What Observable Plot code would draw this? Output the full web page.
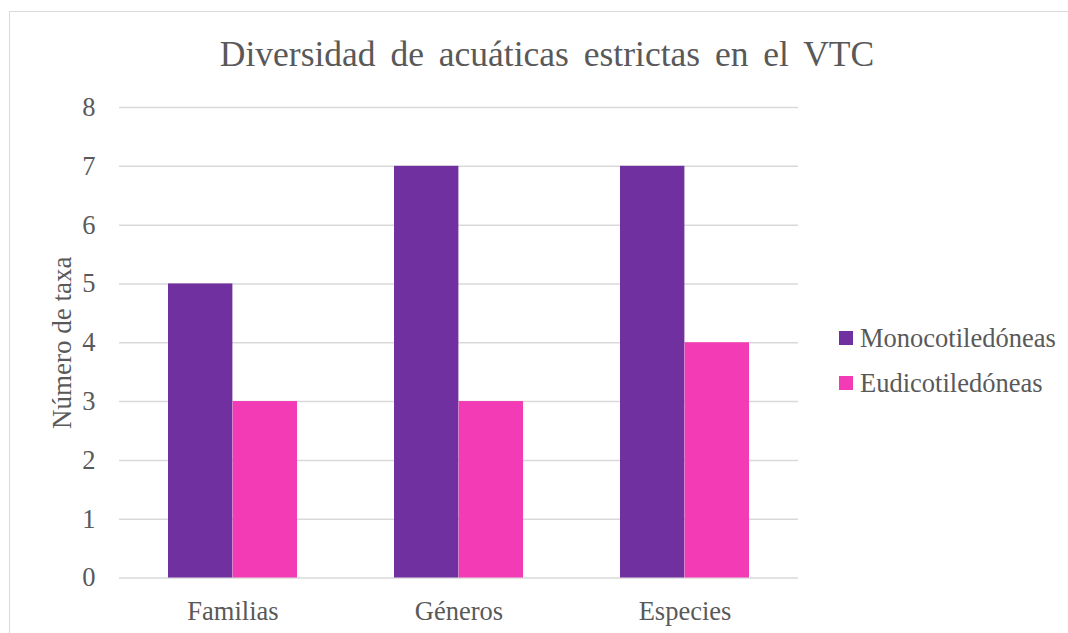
<!DOCTYPE html>
<html>
<head>
<meta charset="utf-8">
<script src="https://cdn.jsdelivr.net/npm/d3@7"></script>
<script src="https://cdn.jsdelivr.net/npm/@observablehq/plot@0.6"></script>
<style>
  html, body { margin: 0; padding: 0; background: #fff; }
  #wrap { position: relative; width: 1068px; height: 633px; overflow: hidden; font-family: 'Liberation Serif'; color: #595959; }
  #frame { position: absolute; left: 9px; top: 11px; width: 1100px; height: 700px; border: 1.5px solid #d9d9d9; box-sizing: border-box; }
  #title { position: absolute; left: 0; top: 33px; width: 1094px; text-align: center; font-family: 'Liberation Serif'; font-size: 35.5px; word-spacing: 6px; white-space: nowrap; }
  #chart { position: absolute; left: 0; top: 0; }
  #legend { position: absolute; left: 839px; top: 323px; font-family: 'Liberation Serif'; font-size: 26.5px; }
  .item { display: flex; align-items: center; height: 30px; margin-bottom: 15px; white-space: nowrap; }
  .sw { width: 14px; height: 14px; margin-right: 7px; }
  #chart svg text { font-family: 'Liberation Serif'; }
</style>
</head>
<body>
<div id="wrap">
  <div id="frame"></div>
  <div id="chart"></div>
  <div id="title">Diversidad de acuáticas estrictas en el VTC</div>
  <div id="legend"></div>
</div>
<script>
const categories = ["Familias", "Géneros", "Especies"];
const series = ["Monocotiledóneas", "Eudicotiledóneas"];
const monocot = [5, 7, 7];
const eudicot = [3, 3, 4];
const yTicks = [0, 1, 2, 3, 4, 5, 6, 7, 8];
const colors = ["#7030A0", "#F23BB4"];

const mono = categories.map((c, i) => ({category: c, value: monocot[i], series: series[0]}));
const eudi = categories.map((c, i) => ({category: c, value: eudicot[i], series: series[1]}));

const W = 1068, H = 633;
const mL = 119, mR = 270, mT = 107, mB = 55.5;
const pIn = 0.429, pOut = 0.2145;
const step = (W - mL - mR) / (categories.length - pIn + 2 * pOut);
const half = step * (1 - pIn) / 2;

const chart = Plot.plot({
  width: W,
  height: H,
  marginLeft: mL,
  marginRight: mR,
  marginTop: mT,
  marginBottom: mB,
  style: {fontFamily: "Liberation Serif", fontSize: "26px", color: "#595959", background: "transparent", overflow: "visible"},
  x: {domain: categories, paddingInner: pIn, paddingOuter: pOut},
  y: {domain: [0, 8]},
  marks: [
    Plot.ruleY(yTicks, {stroke: "#d9d9d9", strokeWidth: 1.5}),
    Plot.barY(mono, {x: "category", y: "value", fill: colors[0], insetRight: half}),
    Plot.barY(eudi, {x: "category", y: "value", fill: colors[1], insetLeft: half}),
    Plot.axisY(yTicks, {tickSize: 0, tickPadding: 24, tickFormat: d => String(d), label: null, fontSize: 26.5, fill: "#595959"}),
    Plot.axisX({tickSize: 0, tickPadding: 23, label: null, fontSize: 26.5, fill: "#595959"}),
    Plot.text(["Número de taxa"], {frameAnchor: "left", textAnchor: "middle", dx: -57, rotate: -90, fontSize: 27, fill: "#595959"})
  ]
});
document.getElementById("chart").appendChild(chart);

const legend = document.getElementById("legend");
series.forEach((s, i) => {
  const it = document.createElement("div");
  it.className = "item";
  const sw = document.createElement("div");
  sw.className = "sw";
  sw.style.background = colors[i];
  const t = document.createElement("span");
  t.textContent = s;
  it.appendChild(sw);
  it.appendChild(t);
  legend.appendChild(it);
});
</script>
</body>
</html>
